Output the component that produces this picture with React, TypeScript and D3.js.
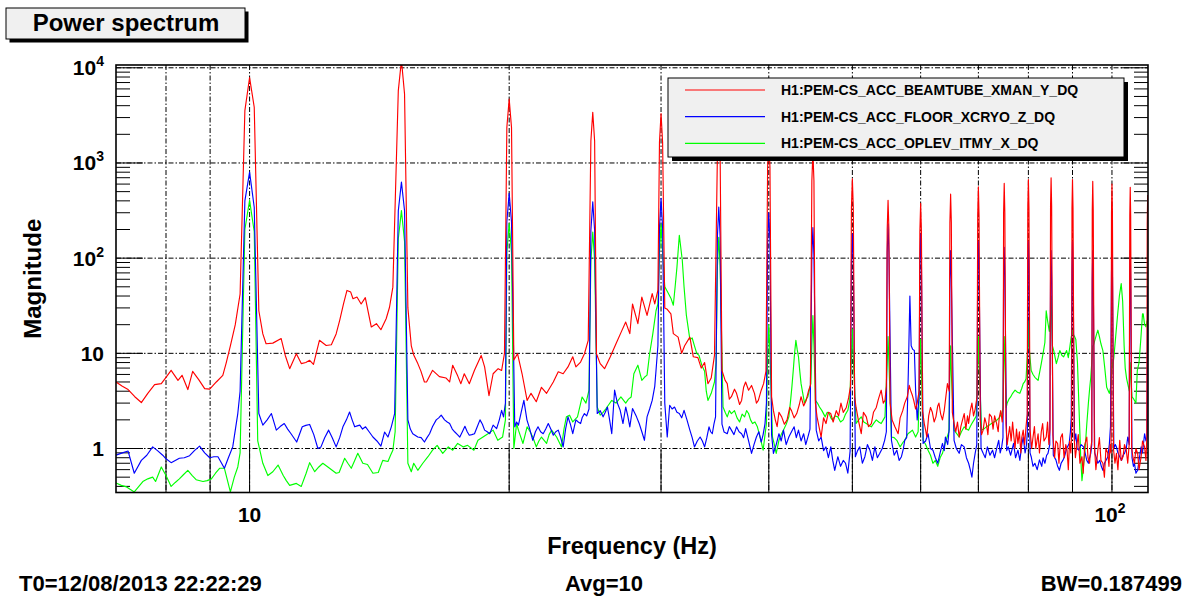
import React from "react";
import * as d3 from "d3";

// ---------- data (frequency in Hz, magnitude) ----------
const RED: [number, number][] = [
  [7.0, 5.0], [7.12, 4.5], [7.23, 4.16], [7.36, 3.5], [7.49, 3.04], [7.62, 3.8], [7.76, 4.69], [7.9, 4.8], [8.0, 5.6],
  [8.11, 6.63], [8.26, 5.2], [8.35, 5.88], [8.48, 4.16], [8.59, 6.47], [8.73, 5.3], [8.87, 4.26], [8.99, 4.2], [9.15, 5.0],
  [9.31, 5.88], [9.39, 7.8], [9.5, 12], [9.625, 20], [9.75, 42], [9.875, 3550], [10.0, 7900], [10.125, 3850], [10.25, 28],
  [10.36, 16], [10.45, 12.6], [10.64, 12.8], [10.88, 14.3], [11.0, 9.5], [11.13, 6.9], [11.33, 9.9], [11.48, 7.8], [11.62, 8.0],
  [11.74, 8.45], [11.86, 7.66], [12.05, 13.7], [12.27, 12.1], [12.44, 12.3], [12.6, 16], [12.72, 22.2], [12.85, 33], [12.97, 45.8],
  [13.1, 44], [13.18, 37.5], [13.32, 39], [13.47, 33], [13.62, 38.5], [13.84, 18.9], [14.03, 20.5], [14.2, 17.7], [14.4, 23.1],
  [14.53, 30.5], [14.66, 49.6], [14.875, 5760], [15.0, 12000], [15.125, 5300], [15.26, 30], [15.4, 12], [15.5, 9.6], [15.67, 7.8],
  [15.8, 6.5], [15.95, 5.0], [16.04, 5.0], [16.3, 6.63], [16.6, 5.7], [16.9, 5.5], [17.06, 5.0], [17.2, 7.5], [17.43, 5.8],
  [17.58, 4.8], [17.74, 6.1], [17.98, 4.8], [18.23, 6.63], [18.56, 9.5], [18.73, 7.2], [18.95, 3.6], [19.16, 6.1], [19.42, 6.9],
  [19.6, 6.6], [19.75, 10], [19.875, 2350], [20.0, 4700], [20.125, 2350], [20.25, 8.5], [20.45, 9.9], [20.7, 6.1], [20.98, 3.2],
  [21.2, 3.8], [21.5, 3.1], [21.8, 4.4], [22.1, 3.8], [22.5, 5.0], [22.8, 6.4], [23.1, 6.1], [23.4, 7.2], [23.7, 9.2], [23.9, 7.2],
  [24.2, 8.1], [24.45, 9.9], [24.7, 13.7], [24.875, 1700], [25.0, 3400], [25.125, 1700], [25.25, 9.9], [25.5, 7.8], [25.8, 6.9],
  [26.2, 9.2], [26.6, 12.6], [26.97, 16.7], [27.3, 21.3], [27.6, 16.1], [27.8, 33], [28.2, 20.5], [28.5, 39], [28.9, 25],
  [29.3, 42.4], [29.5, 33], [29.75, 46], [29.875, 1650], [30.0, 3300], [30.125, 1650], [30.3, 30], [30.5, 29], [30.8, 26],
  [31.0, 16.1], [31.4, 14.8], [31.7, 10], [31.95, 12], [32.4, 14.8], [32.7, 9.2], [33.1, 9.0], [33.4, 7.0], [33.7, 8.0],
  [34.0, 4.8], [34.3, 5.5], [34.6, 9.5], [34.875, 1300], [35.0, 2600], [35.125, 1300],
  [35.3, 6.6], [35.6, 5.2], [35.8, 4.8], [36.0, 3.3], [36.2, 3.5], [36.5, 4.2], [36.7, 3.8], [37.0, 2.9], [37.2, 3.2], [37.4, 4.4],
  [37.6, 5.0], [37.9, 4.1], [38.2, 4.6], [38.5, 3.8], [38.7, 3.0], [38.9, 3.2], [39.2, 4.1], [39.45, 4.8], [39.7, 6.5],
  [39.875, 900], [40.0, 1800], [40.125, 900],
  [40.3, 3.5], [40.5, 2.5], [40.7, 2.0], [40.9, 1.7], [41.1, 2.4], [41.4, 2.15], [41.7, 1.8], [42.0, 2.0], [42.3, 2.7], [42.5, 2.5],
  [42.8, 2.1], [43.1, 2.33], [43.4, 2.9], [43.6, 3.5], [43.9, 2.8], [44.2, 3.2], [44.5, 4.1], [44.7, 4.6],
  [44.875, 650], [45.0, 1300], [45.125, 650],
  [45.3, 3.0], [45.5, 2.15], [45.8, 1.6], [46.0, 1.32], [46.3, 2.1], [46.6, 1.83], [46.9, 2.4], [47.2, 2.33], [47.5, 1.9], [47.9, 2.5],
  [48.2, 2.2], [48.5, 3.0], [48.8, 2.4], [49.2, 2.7], [49.5, 3.4], [49.75, 4.5],
  [49.875, 340], [50.0, 680], [50.125, 340],
  [50.3, 3.5], [50.5, 2.7], [50.8, 2.0], [51.2, 1.43], [51.5, 2.4], [51.9, 2.15], [52.2, 1.7], [52.6, 1.83], [52.9, 2.4], [53.3, 2.7],
  [53.6, 3.3], [54.0, 4.1], [54.3, 3.0], [54.55, 3.2], [54.75, 4.5],
  [54.875, 200], [55.0, 405], [55.125, 200],
  [55.3, 3.0], [55.6, 2.0], [56.0, 1.7], [56.5, 1.43], [56.8, 2.1], [57.2, 2.5], [57.5, 3.0], [57.9, 3.5], [58.2, 4.6], [58.4, 4.1],
  [58.7, 3.6], [58.9, 3.2], [59.2, 2.6], [59.45, 3.0], [59.75, 4],
  [59.875, 190], [60.0, 376], [60.125, 190],
  [60.3, 2.5], [60.6, 1.8], [60.8, 1.56], [61.0, 1.32], [61.3, 2.2], [61.6, 2.7], [61.9, 2.4], [62.2, 1.9], [62.5, 2.15], [62.8, 2.8],
  [63.0, 3.0], [63.3, 2.3], [63.6, 2.0], [63.9, 2.5], [64.2, 3.6], [64.45, 4.8], [64.75, 4],
  [64.875, 235], [65.0, 470], [65.125, 235],
  [65.3, 2.4], [65.6, 1.83], [65.9, 1.5], [66.2, 1.9], [66.5, 1.32], [66.8, 1.7], [67.1, 2.0], [67.4, 2.33], [67.7, 1.6], [68.0, 2.2],
  [68.2, 1.83], [68.5, 2.5], [68.8, 3.0], [69.1, 2.2], [69.4, 2.6], [69.75, 3.5],
  [69.875, 280], [70.0, 560], [70.125, 280],
  [70.35, 2.0], [70.6, 1.4], [70.9, 1.56], [71.2, 2.1], [71.5, 1.83], [71.8, 1.4], [72.1, 2.3], [72.5, 2.15], [72.8, 1.6], [73.1, 2.2],
  [73.5, 1.83], [73.8, 1.5], [74.0, 2.1], [74.3, 2.5], [74.6, 1.9], [74.8, 2.8],
  [74.875, 300], [75.0, 610], [75.125, 300],
  [75.35, 1.8], [75.6, 1.1], [75.8, 1.32], [76.1, 1.7], [76.4, 1.2], [76.7, 1.9], [76.9, 1.43], [77.2, 1.0], [77.5, 1.6], [77.8, 1.13],
  [78.1, 1.5], [78.4, 0.9], [78.6, 1.3], [78.9, 1.56], [79.2, 1.1], [79.5, 1.7], [79.75, 2.3],
  [79.875, 335], [80.0, 670], [80.125, 335],
  [80.35, 1.6], [80.7, 1.0], [81.0, 1.32], [81.3, 1.7], [81.6, 1.0], [82.1, 1.43], [82.4, 0.9], [82.8, 1.5], [83.1, 1.83], [83.4, 1.2],
  [83.9, 1.32], [84.2, 1.9], [84.5, 1.1], [84.75, 1.6],
  [84.875, 350], [85.0, 700], [85.125, 350],
  [85.4, 1.4], [85.8, 0.8], [86.1, 1.2], [86.5, 1.13], [86.8, 0.7], [87.2, 1.3], [87.6, 1.43], [88.0, 0.8], [88.4, 1.1], [88.7, 0.96],
  [89.0, 0.6], [89.3, 1.2], [89.6, 0.9], [89.8, 1.5],
  [89.875, 335], [90.0, 670], [90.125, 335],
  [90.4, 1.3], [90.7, 0.8], [91.0, 1.04], [91.4, 1.4], [91.8, 0.7], [92.3, 0.82], [92.6, 0.55], [93.0, 1.1], [93.5, 1.32], [93.8, 0.8],
  [94.2, 0.7], [94.5, 1.0], [94.75, 1.2],
  [94.875, 320], [95.0, 640], [95.125, 320],
  [95.4, 1.1], [95.8, 0.6], [96.3, 0.96], [96.7, 1.3], [97.1, 0.75], [97.6, 0.7], [98.0, 0.5], [98.4, 1.0], [98.9, 0.89], [99.2, 0.65],
  [99.5, 1.1], [99.75, 0.9],
  [99.875, 300], [100.0, 600], [100.125, 300],
  [100.4, 1.0], [100.8, 0.7], [101.2, 0.89], [101.6, 0.6], [102.1, 1.22], [102.5, 0.75], [103.0, 0.82], [103.4, 1.1], [103.9, 0.96],
  [104.3, 0.7], [104.7, 1.1],
  [104.875, 280], [105.0, 555], [105.125, 280],
  [105.4, 1.0], [105.8, 0.8], [106.2, 0.7], [106.6, 1.0], [107.1, 0.89], [107.5, 0.6], [108.1, 0.82], [108.5, 1.2], [109.1, 1.04],
  [109.5, 0.75], [109.75, 1.3],
  [109.875, 230], [110.0, 460],
];

const BLUE: [number, number][] = [
  [7.0, 0.85], [7.12, 0.9], [7.23, 0.94], [7.35, 0.55], [7.49, 0.75], [7.6, 0.85], [7.72, 1.04], [7.82, 0.95], [7.93, 0.85], [8.0, 0.78],
  [8.11, 0.71], [8.2, 0.75], [8.29, 0.79], [8.4, 0.8], [8.52, 0.84], [8.63, 0.95], [8.75, 1.06], [8.87, 0.9], [8.99, 0.8], [9.09, 0.82],
  [9.19, 0.82], [9.35, 0.62], [9.45, 0.8], [9.56, 1.04], [9.69, 2.33], [9.75, 4], [9.875, 400], [10.0, 800], [10.125, 343],
  [10.25, 2.33], [10.36, 1.76], [10.48, 2.0], [10.6, 2.33], [10.74, 1.56], [10.85, 1.7], [10.97, 1.83], [11.07, 1.6], [11.17, 1.43],
  [11.34, 1.17], [11.51, 1.69], [11.62, 1.75], [11.74, 1.79], [11.87, 1.4], [12.0, 1.0], [12.1, 1.04], [12.22, 1.3], [12.35, 1.56],
  [12.47, 1.3], [12.6, 1.04], [12.72, 1.3], [12.83, 1.69], [12.95, 2.0], [13.06, 2.42], [13.15, 2.0], [13.24, 1.69], [13.33, 1.73],
  [13.42, 1.76], [13.52, 1.6], [13.63, 1.69], [13.76, 1.5], [13.9, 1.32], [14.05, 1.2], [14.2, 1.06], [14.34, 1.49], [14.47, 1.32],
  [14.6, 1.69], [14.73, 2.33], [14.875, 315], [15.0, 630], [15.125, 315], [15.26, 2.0], [15.36, 1.6], [15.46, 1.43], [15.67, 1.32],
  [15.81, 1.3], [15.95, 1.17], [16.06, 1.3], [16.17, 1.43], [16.3, 1.7], [16.46, 2.0], [16.57, 2.1], [16.68, 2.24], [16.83, 2.0],
  [16.95, 1.9], [17.06, 1.83], [17.18, 1.6], [17.3, 1.49], [17.42, 1.4], [17.53, 1.32], [17.65, 1.5], [17.77, 1.71], [17.88, 1.5],
  [17.98, 1.38], [18.1, 1.4], [18.23, 1.43], [18.37, 1.7], [18.5, 2.0], [18.62, 1.8], [18.73, 1.56], [18.86, 1.5], [18.99, 1.43],
  [19.16, 1.76], [19.34, 1.62], [19.48, 2.0], [19.6, 2.52], [19.7, 2.15], [19.8, 3], [19.875, 240], [20.0, 480], [20.125, 240],
  [20.3, 1.69], [20.4, 1.9], [20.5, 1.76], [20.65, 2.4], [20.8, 3.2], [20.97, 2.0], [21.13, 1.6], [21.3, 1.22], [21.45, 1.5],
  [21.6, 1.69], [21.75, 1.5], [21.9, 1.43], [22.05, 1.6], [22.2, 1.83], [22.35, 1.6], [22.5, 1.38], [22.65, 1.5], [22.8, 1.56],
  [22.95, 1.3], [23.1, 1.04], [23.25, 1.6], [23.4, 2.15], [23.55, 1.8], [23.7, 1.43], [23.8, 1.7], [23.9, 2.0], [24.05, 1.9],
  [24.2, 1.83], [24.3, 2.1], [24.45, 2.33], [24.6, 2.2], [24.75, 2.6], [24.875, 195], [25.0, 390], [25.125, 195], [25.3, 2.33],
  [25.5, 2.5], [25.7, 2.15], [25.85, 2.4], [26.0, 2.73], [26.15, 2.0], [26.3, 1.43], [26.5, 4.1], [26.7, 3.0], [26.9, 2.52],
  [27.1, 1.83], [27.3, 2.73], [27.45, 2.2], [27.6, 1.69], [27.8, 2.63], [28.1, 2.15], [28.3, 1.83], [28.5, 1.5], [28.7, 1.22],
  [28.9, 2.15], [29.1, 2.6], [29.3, 3.2], [29.5, 4.5], [29.6, 6.6], [29.75, 12], [29.875, 210], [30.0, 425], [30.125, 210],
  [30.3, 3], [30.5, 1.32], [30.7, 2.85], [30.9, 2.6], [31.1, 2.73], [31.3, 2.4], [31.5, 2.33], [31.7, 2.1], [31.9, 2.52],
  [32.15, 2.0], [32.4, 1.56], [32.6, 1.3], [32.8, 1.04], [33.05, 1.2], [33.3, 1.32], [33.5, 1.2], [33.7, 1.04], [33.9, 1.3],
  [34.1, 1.69], [34.25, 1.5], [34.4, 1.43], [34.55, 1.8], [34.7, 2.15], [34.875, 172], [35.0, 344], [35.125, 172],
  [35.3, 1.8], [35.5, 1.49], [35.8, 1.43], [36.0, 1.7], [36.2, 1.56], [36.45, 1.4], [36.7, 1.69], [36.95, 1.5], [37.2, 1.43],
  [37.4, 1.3], [37.6, 1.62], [37.9, 1.2], [38.2, 0.89], [38.45, 1.1], [38.7, 1.32], [38.95, 1.5], [39.2, 1.17], [39.4, 1.4],
  [39.6, 1.83], [39.75, 3], [39.875, 150], [40.0, 300], [40.125, 150],
  [40.3, 1.4], [40.5, 0.89], [40.8, 1.1], [41.1, 1.43], [41.35, 1.2], [41.6, 1.56], [41.9, 1.1], [42.2, 1.32], [42.5, 1.5],
  [42.8, 1.69], [43.05, 1.3], [43.3, 1.56], [43.6, 1.2], [43.9, 1.43], [44.15, 1.1], [44.4, 1.32], [44.65, 1.6],
  [44.875, 105], [45.0, 210], [45.125, 105],
  [45.4, 1.56], [45.7, 1.2], [46.0, 1.32], [46.3, 0.95], [46.6, 1.04], [46.9, 0.8], [47.2, 1.04], [47.45, 0.75], [47.7, 0.59],
  [47.9, 0.7], [48.1, 0.82], [48.45, 0.65], [48.8, 0.75], [49.1, 0.7], [49.4, 0.55], [49.7, 0.94],
  [49.875, 90], [50.0, 180], [50.125, 90],
  [50.4, 0.82], [50.7, 0.95], [51.0, 1.04], [51.35, 0.7], [51.7, 0.82], [52.05, 1.1], [52.4, 0.96], [52.75, 0.75], [53.1, 1.04],
  [53.45, 0.8], [53.8, 0.89], [54.15, 1.0], [54.5, 1.22], [54.75, 1.5],
  [54.875, 115], [55.0, 230], [55.125, 115],
  [55.5, 1.22], [55.9, 0.85], [56.3, 0.96], [56.65, 0.75], [57.0, 0.82], [57.3, 1.0], [57.5, 1.22], [57.8, 1.3], [58.05, 6],
  [58.3, 40], [58.5, 12], [58.75, 11], [59.0, 10.7], [59.2, 4.1], [59.45, 2.0], [59.75, 3.5],
  [59.875, 90], [60.0, 180], [60.125, 90],
  [60.4, 1.13], [60.8, 1.2], [61.2, 1.43], [61.6, 1.0], [62.0, 0.96], [62.4, 0.8], [62.8, 0.7], [63.2, 0.9], [63.6, 1.13],
  [63.9, 0.95], [64.1, 1.32], [64.5, 1.1], [64.75, 1.6],
  [64.875, 60], [65.0, 120], [65.125, 60],
  [65.6, 1.22], [66.0, 1.0], [66.5, 0.89], [66.9, 1.1], [67.4, 1.04], [67.8, 0.8], [68.2, 0.7], [68.5, 0.6], [68.8, 0.5],
  [69.1, 0.7], [69.4, 0.89], [69.7, 1.1],
  [69.875, 75], [70.0, 150], [70.125, 75],
  [70.5, 1.0], [70.9, 0.89], [71.3, 0.8], [71.7, 1.04], [72.2, 0.85], [72.7, 0.96], [73.1, 0.8], [73.5, 1.0], [73.9, 1.22],
  [74.2, 0.9], [74.5, 1.04], [74.75, 1.3],
  [74.875, 65], [75.0, 130], [75.125, 65],
  [75.5, 0.95], [75.8, 1.04], [76.3, 0.85], [76.9, 1.13], [77.3, 0.8], [77.8, 0.96], [78.2, 0.75], [78.6, 1.1], [78.9, 1.32],
  [79.3, 0.9], [79.6, 1.1], [79.78, 1.5],
  [79.875, 75], [80.0, 150], [80.125, 75],
  [80.35, 0.9], [80.6, 0.82], [81.0, 0.65], [81.4, 0.7], [81.9, 0.6], [82.4, 0.76], [82.9, 0.65], [83.2, 0.8], [83.6, 0.7],
  [84.0, 0.85], [84.3, 0.89], [84.7, 1.1],
  [84.875, 60], [85.0, 120], [85.125, 60],
  [85.5, 0.85], [86.1, 0.76], [86.5, 0.65], [86.9, 0.59], [87.3, 0.7], [87.7, 0.75], [88.1, 0.82], [88.6, 1.0], [89.2, 1.13],
  [89.5, 1.5], [89.7, 2.15],
  [89.875, 75], [90.0, 150], [90.125, 75],
  [90.5, 1.2], [90.8, 1.43], [91.1, 1.0], [91.5, 0.96], [92.1, 1.1], [92.7, 1.04], [93.2, 0.85], [93.5, 0.75], [93.9, 0.7],
  [94.2, 0.8], [94.5, 0.89], [94.75, 1.1],
  [94.875, 60], [95.0, 120], [95.125, 60],
  [95.5, 0.9], [95.9, 0.8], [96.3, 0.7], [96.8, 0.75], [97.2, 0.65], [97.6, 0.59], [98.0, 0.7], [98.4, 0.75], [98.9, 0.82],
  [99.3, 1.1], [99.6, 1.69],
  [99.875, 70], [100.0, 140], [100.125, 70],
  [100.5, 1.0], [100.9, 1.1], [101.2, 1.04], [101.6, 0.9], [102.1, 0.82], [102.6, 0.75], [103.0, 0.85], [103.4, 0.89],
  [103.9, 1.0], [104.3, 1.32], [104.7, 1.1],
  [104.875, 60], [105.0, 120], [105.125, 60],
  [105.5, 0.8], [105.9, 0.65], [106.2, 0.7], [106.6, 0.55], [107.1, 0.59], [107.6, 0.8], [108.1, 1.04], [108.5, 0.9],
  [109.1, 1.43], [109.5, 1.2], [109.8, 1.32], [110.0, 50],
];

const GREEN: [number, number][] = [
  [7.0, 0.435], [7.1, 0.41], [7.2, 0.395], [7.35, 0.35], [7.52, 0.45], [7.62, 0.48], [7.72, 0.5], [7.78, 0.45], [7.9, 0.64],
  [8.0, 0.52], [8.11, 0.4], [8.2, 0.44], [8.29, 0.48], [8.38, 0.53], [8.48, 0.59], [8.58, 0.52], [8.67, 0.47], [8.83, 0.45],
  [8.93, 0.46], [9.03, 0.48], [9.13, 0.55], [9.23, 0.62], [9.35, 0.62], [9.5, 0.35], [9.6, 0.5], [9.69, 0.64], [9.75, 0.9],
  [9.875, 200], [10.0, 405], [10.125, 190], [10.22, 1.2], [10.36, 0.7], [10.5, 0.52], [10.64, 0.57], [10.79, 0.67], [10.94, 0.52],
  [11.03, 0.46], [11.13, 0.41], [11.33, 0.43], [11.48, 0.4], [11.63, 0.55], [11.74, 0.71], [11.9, 0.57], [12.03, 0.64],
  [12.16, 0.7], [12.27, 0.66], [12.38, 0.62], [12.6, 0.55], [12.7, 0.56], [12.89, 0.79], [13.0, 0.7], [13.12, 0.62], [13.24, 0.75],
  [13.35, 0.89], [13.53, 0.7], [13.7, 0.68], [13.9, 0.55], [14.1, 0.56], [14.27, 0.75], [14.47, 0.73], [14.57, 0.85],
  [14.66, 0.96], [14.75, 1.5], [14.875, 160], [15.0, 316], [15.125, 150], [15.26, 0.7], [15.4, 0.57], [15.5, 0.7], [15.67, 0.59],
  [15.88, 0.7], [16.1, 0.82], [16.3, 0.96], [16.5, 1.08], [16.75, 0.89], [17.0, 1.04], [17.2, 0.96], [17.43, 1.13], [17.7, 1.04],
  [17.9, 1.08], [18.2, 0.96], [18.4, 1.22], [18.65, 1.32], [18.9, 1.43], [19.16, 1.56], [19.4, 1.22], [19.65, 1.32], [19.8, 2.0],
  [19.875, 115], [20.0, 232], [20.125, 115], [20.25, 1.0], [20.4, 1.83], [20.5, 1.56], [20.75, 1.13], [20.98, 1.69], [21.15, 1.5],
  [21.3, 1.32], [21.5, 1.04], [21.65, 1.2], [21.8, 1.32], [22.1, 1.13], [22.25, 1.4], [22.4, 1.56], [22.7, 1.32], [23.0, 1.04],
  [23.15, 1.6], [23.3, 2.15], [23.5, 2.24], [23.7, 1.9], [24.0, 2.15], [24.3, 3.48], [24.55, 3.0], [24.75, 4.1],
  [24.875, 94], [25.0, 188], [25.125, 94], [25.3, 2.73], [25.5, 2.24], [25.7, 2.4], [25.9, 2.63], [26.1, 2.9], [26.3, 3.2],
  [26.6, 3.0], [26.95, 3.48], [27.3, 3.0], [27.5, 3.3], [27.7, 3.48], [27.9, 6.1], [28.2, 7.5], [28.5, 5.2], [28.7, 5.6],
  [28.9, 5.9], [29.1, 9.9], [29.35, 16.1], [29.6, 28], [29.75, 33], [29.875, 115], [30.0, 230], [30.125, 115], [30.3, 50],
  [30.5, 45], [30.8, 38], [31.0, 32], [31.15, 50], [31.3, 80], [31.5, 174], [31.75, 95], [31.9, 50], [32.1, 25], [32.4, 14],
  [32.6, 14.5], [32.8, 12], [33.0, 10], [33.2, 9.5], [33.45, 7.5], [33.7, 6.5], [33.85, 4], [34.0, 3.2], [34.3, 3.8], [34.6, 5.0],
  [34.75, 8], [34.875, 83], [35.0, 166], [35.125, 83],
  [35.4, 2.73], [35.6, 2.4], [35.8, 2.15], [36.0, 2.5], [36.2, 2.33], [36.5, 2.5], [36.75, 2.1], [37.0, 1.9], [37.25, 2.3],
  [37.5, 2.15], [37.7, 2.5], [37.9, 2.33], [38.1, 2.0], [38.3, 1.83], [38.55, 1.9], [38.8, 1.69], [39.1, 1.3], [39.4, 0.96],
  [39.6, 1.4], [39.75, 1.83], [39.875, 10], [40.0, 20], [40.125, 10],
  [40.4, 1.32], [40.6, 1.1], [40.8, 0.89], [41.1, 1.22], [41.35, 1.4], [41.6, 1.56], [41.9, 1.8], [42.2, 2.15], [42.4, 3.2],
  [42.55, 4.5], [42.7, 6.6], [42.85, 10], [43.0, 13.7], [43.15, 11], [43.3, 9.2], [43.45, 6.5], [43.6, 4.8], [43.8, 3.8],
  [44.0, 3.0], [44.2, 3.3], [44.4, 3.5], [44.6, 4.2], [44.75, 4.8], [44.875, 12], [45.0, 25], [45.125, 12],
  [45.3, 3.2], [45.55, 3.0], [45.8, 2.73], [46.1, 2.5], [46.5, 2.15], [46.75, 2.4], [47.0, 2.33], [47.2, 2.1], [47.4, 2.0],
  [47.75, 2.2], [48.1, 2.15], [48.45, 1.9], [48.8, 2.0], [49.1, 2.3], [49.4, 2.52], [49.65, 3.2],
  [49.875, 9], [50.0, 18], [50.125, 9],
  [50.5, 1.83], [50.85, 2.0], [51.2, 2.15], [51.55, 1.9], [51.9, 1.83], [52.25, 1.75], [52.6, 1.69], [52.95, 1.85], [53.3, 2.0],
  [53.65, 1.9], [54.0, 1.83], [54.3, 2.0], [54.55, 2.15], [54.875, 8], [55.0, 15], [55.125, 8],
  [55.5, 1.32], [55.9, 1.3], [56.3, 1.22], [56.8, 1.04], [57.2, 1.15], [57.5, 1.22], [58.0, 1.43], [58.4, 1.5], [58.7, 1.56],
  [59.2, 1.32], [59.6, 1.5], [59.875, 7], [60.0, 14], [60.125, 7],
  [60.4, 1.22], [60.8, 1.1], [61.2, 0.96], [61.6, 0.85], [62.0, 0.7], [62.4, 0.75], [62.8, 0.65], [63.2, 0.8], [63.6, 0.89],
  [64.0, 1.1], [64.4, 1.32], [64.7, 1.5], [64.875, 6], [65.0, 12], [65.125, 6],
  [65.6, 1.56], [66.0, 1.45], [66.5, 1.32], [66.9, 1.5], [67.4, 1.69], [67.8, 1.6], [68.2, 1.56], [68.5, 1.7], [68.8, 1.83],
  [69.2, 2.0], [69.6, 2.2], [69.875, 8], [70.0, 15], [70.125, 8],
  [70.6, 1.56], [71.0, 1.6], [71.5, 1.69], [72.0, 1.75], [72.5, 1.83], [73.0, 1.9], [73.5, 1.98], [74.0, 2.1], [74.5, 2.33],
  [74.75, 2.6], [74.875, 8], [75.0, 15], [75.125, 8],
  [75.4, 2.7], [75.6, 3.0], [75.95, 3.3], [76.3, 3.48], [76.7, 3.8], [77.2, 4.1], [77.7, 3.9], [78.2, 3.8], [78.6, 4.3],
  [78.9, 4.8], [79.2, 5.0], [79.5, 5.4], [79.875, 12], [80.0, 22], [80.125, 12],
  [80.6, 6.6], [81.0, 6.0], [81.4, 5.6], [82.1, 5.2], [82.8, 7.8], [83.2, 10], [83.6, 13], [83.9, 28], [84.2, 22], [84.6, 17],
  [84.875, 25], [85.0, 40], [85.125, 25],
  [85.3, 12], [85.6, 10.7], [86.2, 7.8], [86.6, 9], [87.0, 10.7], [87.5, 9.5], [87.9, 9.2], [88.3, 10], [88.6, 10.7], [89.0, 9],
  [89.4, 12], [89.7, 15], [89.875, 16], [90.0, 17.5], [90.125, 16],
  [90.5, 15], [90.8, 14], [91.2, 8], [91.6, 2.5], [92.0, 0.8], [92.3, 0.46], [92.6, 0.6], [93.0, 0.89], [93.5, 1.8], [93.9, 3.0],
  [94.2, 4.2], [94.5, 5.6], [94.75, 8], [94.875, 10], [95.0, 12], [95.125, 12],
  [95.6, 14], [96.0, 16], [96.3, 17.5], [96.7, 15], [97.1, 12.6], [97.6, 10.7], [98.1, 7], [98.6, 4.4], [99.3, 3.8], [99.7, 4.5],
  [99.875, 6], [100.0, 8], [100.125, 7],
  [100.5, 9], [101.0, 15], [101.5, 25], [102.0, 40], [102.5, 54], [102.9, 35], [103.3, 12], [103.6, 7], [104.0, 5.4],
  [104.4, 4.6], [104.75, 4], [104.875, 6], [105.0, 8], [105.125, 6],
  [105.5, 3.5], [106.0, 3.3], [106.6, 3.0], [107.0, 6.6], [107.5, 8], [108.0, 14], [108.5, 26], [108.7, 26], [109.1, 20],
  [109.5, 19], [109.8, 22], [110.0, 20],
];

const SERIES_NAMES = [
  "H1:PEM-CS_ACC_BEAMTUBE_XMAN_Y_DQ",
  "H1:PEM-CS_ACC_FLOOR_XCRYO_Z_DQ",
  "H1:PEM-CS_ACC_OPLEV_ITMY_X_DQ",
];
const SERIES_COLORS = ["#ff0000", "#0000ff", "#00ff00"];

const X_DOMAIN: [number, number] = [7, 110.1];
const Y_DOMAIN: [number, number] = [0.345, 10700];
const X_GRID = [8, 9, 10, 20, 30, 40, 50, 60, 70, 80, 90, 100];
const X_LABELS: [number, string, string][] = [[10, "10", ""], [100, "10", "2"]];
const Y_DECADES = [1, 10, 100, 1000, 10000];
const Y_LABELS: [number, string, string][] = [
  [1, "1", ""], [10, "10", ""], [100, "10", "2"], [1000, "10", "3"], [10000, "10", "4"],
];

const TITLE = "Power spectrum";
const X_TITLE = "Frequency (Hz)";
const Y_TITLE = "Magnitude";
const FOOT_LEFT = "T0=12/08/2013 22:22:29";
const FOOT_MID = "Avg=10";
const FOOT_RIGHT = "BW=0.187499";

const FONT = "'Liberation Sans', Arial, Helvetica, sans-serif";

export default function App() {
  const W = 1190;
  const H = 598;
  const L = 116, R = 1148, T = 65, B = 492.5;

  const x = d3.scaleLog().domain(X_DOMAIN).range([L, R]);
  const y = d3.scaleLog().domain(Y_DOMAIN).range([B, T]);
  const line = d3
    .line<[number, number]>()
    .x((d) => x(d[0]))
    .y((d) => y(d[1]));

  const minorY: number[] = [];
  for (let e = -1; e <= 4; e++) {
    for (let k = 2; k <= 9; k++) {
      const v = k * Math.pow(10, e);
      if (v > Y_DOMAIN[0] && v < Y_DOMAIN[1]) minorY.push(v);
    }
  }

  const series: [number, number][][] = [RED, BLUE, GREEN];
  const drawOrder = [2, 1, 0];

  const gridDash = "5 2 1.5 2";

  const legX = 668, legY = 78, legW = 456, legH = 79;
  const legRows = [90, 116.7, 143.3];

  return (
    <svg
      width={W}
      height={H}
      style={{ position: "absolute", left: 0, top: 0, background: "#fff" }}
      fontFamily={FONT}
    >
      <rect x={0} y={0} width={W} height={H} fill="#ffffff" />
      <defs>
        <clipPath id="plotClip">
          <rect x={L} y={T} width={R - L} height={B - T} />
        </clipPath>
      </defs>

      {/* title box */}
      <rect x={9.5} y={11.5} width={239} height={31} fill="#000" />
      <rect x={6} y={8} width={239} height={31} fill="#f0f0f0" stroke="#000" strokeWidth={1} />
      <text x={126} y={31} textAnchor="middle" fontSize={24} fontWeight="bold" fill="#000">
        {TITLE}
      </text>

      {/* grid */}
      <g stroke="#000" strokeWidth={1} strokeDasharray={gridDash} fill="none">
        {X_GRID.map((f) => (
          <line key={"gx" + f} x1={x(f)} x2={x(f)} y1={T} y2={B} />
        ))}
        {Y_DECADES.map((v) => (
          <line key={"gy" + v} x1={L} x2={R} y1={y(v)} y2={y(v)} />
        ))}
      </g>

      {/* ticks */}
      <g stroke="#000" strokeWidth={1}>
        {X_GRID.map((f) => (
          <line key={"tx" + f} x1={x(f)} x2={x(f)} y1={B} y2={B - 44} />
        ))}
        {minorY.map((v) => (
          <g key={"my" + v}>
            <line x1={L} x2={L + 14} y1={y(v)} y2={y(v)} />
            <line x1={R} x2={R - 14} y1={y(v)} y2={y(v)} />
          </g>
        ))}
        {Y_DECADES.map((v) => (
          <g key={"My" + v}>
            <line x1={L} x2={L + 27} y1={y(v)} y2={y(v)} />
            <line x1={R} x2={R - 27} y1={y(v)} y2={y(v)} />
          </g>
        ))}
      </g>

      {/* curves */}
      <g clipPath="url(#plotClip)" fill="none" strokeWidth={1.15} strokeLinejoin="round">
        {drawOrder.map((i) => (
          <path key={"s" + i} d={line(series[i]) || ""} stroke={SERIES_COLORS[i]} />
        ))}
      </g>

      {/* frame */}
      <rect x={L} y={T} width={R - L} height={B - T} fill="none" stroke="#000" strokeWidth={1.6} />

      {/* tick labels */}
      <g fontSize={21} fontWeight="bold" fill="#000">
        {Y_LABELS.map(([v, base, exp]) => (
          <text key={"yl" + v} x={104} y={y(v) + 7.5} textAnchor="end">
            {base}
            {exp ? (
              <tspan fontSize={14} dy={-9}>
                {exp}
              </tspan>
            ) : null}
          </text>
        ))}
        {X_LABELS.map(([v, base, exp]) => (
          <text key={"xl" + v} x={x(v) + (exp ? -2 : 0)} y={522} textAnchor="middle">
            {base}
            {exp ? (
              <tspan fontSize={14} dy={-9}>
                {exp}
              </tspan>
            ) : null}
          </text>
        ))}
      </g>

      {/* axis titles */}
      <text x={(L + R) / 2} y={554} textAnchor="middle" fontSize={23.5} fontWeight="bold" fill="#000">
        {X_TITLE}
      </text>
      <text
        transform={`translate(41,${(T + B) / 2}) rotate(-90)`}
        textAnchor="middle"
        fontSize={24}
        fontWeight="bold"
        fill="#000"
      >
        {Y_TITLE}
      </text>

      {/* legend */}
      <rect x={legX + 4} y={legY + 4} width={legW} height={legH} fill="#000" />
      <rect x={legX} y={legY} width={legW} height={legH} fill="#f0f0f0" stroke="#000" strokeWidth={1} />
      {SERIES_NAMES.map((name, i) => (
        <g key={"leg" + i}>
          <line x1={685} x2={765} y1={legRows[i]} y2={legRows[i]} stroke={SERIES_COLORS[i]} strokeWidth={1.2} />
          <text x={781} y={legRows[i] + 5} fontSize={14} fontWeight="bold" fill="#000">
            {name}
          </text>
        </g>
      ))}

      {/* footer */}
      <g fontSize={22} fontWeight="bold" fill="#000">
        <text x={19} y={591}>{FOOT_LEFT}</text>
        <text x={565} y={591}>{FOOT_MID}</text>
        <text x={1182} y={591} textAnchor="end">{FOOT_RIGHT}</text>
      </g>
    </svg>
  );
}
